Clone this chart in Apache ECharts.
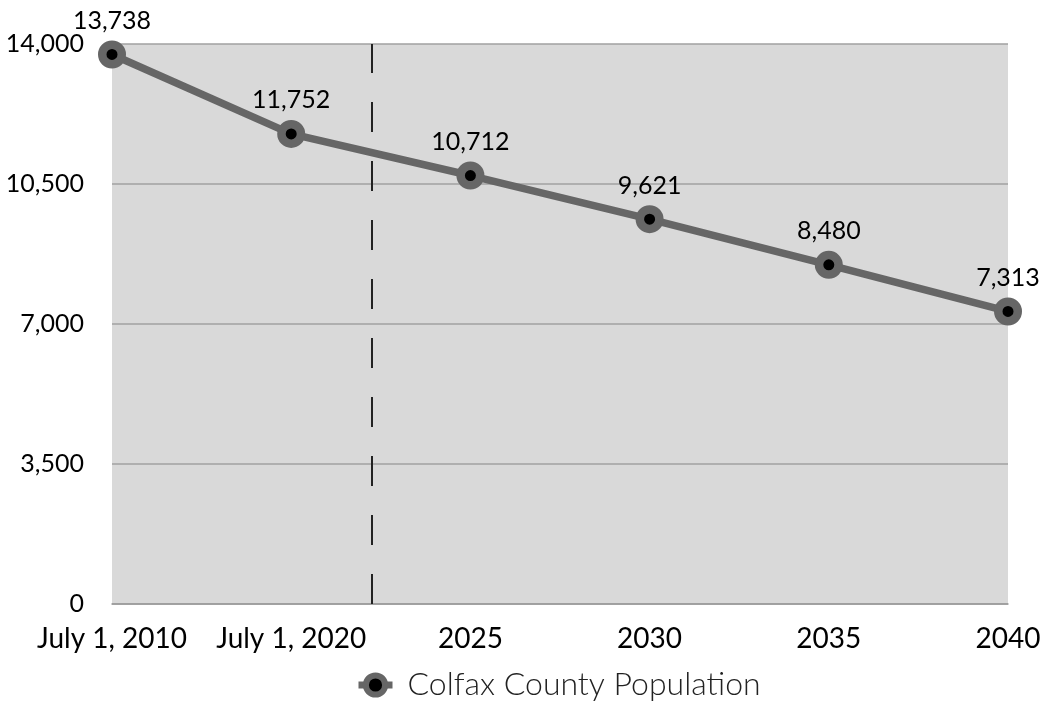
<!DOCTYPE html>
<html>
<head>
<meta charset="utf-8">
<title>Colfax County Population</title>
<script src="https://cdn.jsdelivr.net/npm/echarts@6/dist/echarts.min.js"></script>
<style>
  html, body { margin: 0; padding: 0; background: #ffffff; }
  #chart { width: 1045px; height: 703px; }
</style>
</head>
<body>
<div id="chart"></div>
<script>
// Period labels along the horizontal axis
const categories = ['July 1, 2010', 'July 1, 2020', '2025', '2030', '2035', '2040'];
// Population estimates and projections
const population = [13738, 11752, 10712, 9621, 8480, 7313];
// Vertical axis ticks
const yTicks = [0, 3500, 7000, 10500, 14000];
// Position (in category steps) of the divider between estimates and projections
const dividerPosition = 1.45;

const seriesName = 'Colfax County Population';
const fontFamily = 'Lato, "Open Sans", sans-serif';
const fmt = v => Number(v).toLocaleString('en-US');

const chart = echarts.init(document.getElementById('chart'), null, { renderer: 'canvas' });

chart.setOption({
  animation: false,
  textStyle: { fontFamily: fontFamily },
  grid: {
    left: 112, right: 37, top: 44, bottom: 99,
    show: true,
    backgroundColor: '#d9d9d9',
    borderWidth: 0
  },
  legend: {
    top: 664,
    left: 350,
    itemWidth: 34,
    itemHeight: 24,
    itemGap: 10,
    textStyle: { fontSize: 32, color: '#222', fontWeight: 300, fontFamily: fontFamily, padding: [0, 0, 0, 10] },
    lineStyle: { width: 7, color: '#666666' },
    itemStyle: { color: '#000000', borderColor: '#666666', borderWidth: 6 },
    data: [seriesName]
  },
  xAxis: {
    type: 'value',
    min: 0,
    max: categories.length - 1,
    interval: 1,
    splitLine: { show: false },
    axisTick: { show: false },
    axisLine: { show: true, lineStyle: { color: '#9a9a9a', width: 1.5 } },
    axisLabel: {
      margin: 21,
      fontSize: 28,
      color: '#000',
      fontFamily: fontFamily,
      formatter: v => categories[Math.round(v)] || ''
    }
  },
  yAxis: {
    type: 'value',
    min: yTicks[0],
    max: yTicks[yTicks.length - 1],
    interval: yTicks[1] - yTicks[0],
    axisLine: { show: false },
    axisTick: { show: false },
    splitLine: { show: true, lineStyle: { color: '#a0a0a0', width: 1.5 } },
    axisLabel: {
      margin: 28,
      fontSize: 25,
      color: '#000',
      fontFamily: fontFamily,
      padding: [4, 0, 0, 0],
      formatter: v => fmt(v)
    }
  },
  series: [{
    name: seriesName,
    type: 'line',
    data: population.map((v, i) => [i, v]),
    symbol: 'circle',
    symbolSize: 19.5,
    lineStyle: { color: '#666666', width: 7.5 },
    itemStyle: { color: '#000000', borderColor: '#666666', borderWidth: 8.5 },
    label: {
      show: true,
      position: 'top',
      distance: 7,
      fontSize: 25,
      color: '#000',
      fontFamily: fontFamily,
      formatter: p => fmt(p.value[1])
    },
    markLine: {
      silent: true,
      symbol: ['none', 'none'],
      label: { show: false },
      lineStyle: { color: '#222222', width: 2, type: [30, 29] },
      data: [{ xAxis: dividerPosition }]
    },
    z: 5
  }]
});
</script>
</body>
</html>
